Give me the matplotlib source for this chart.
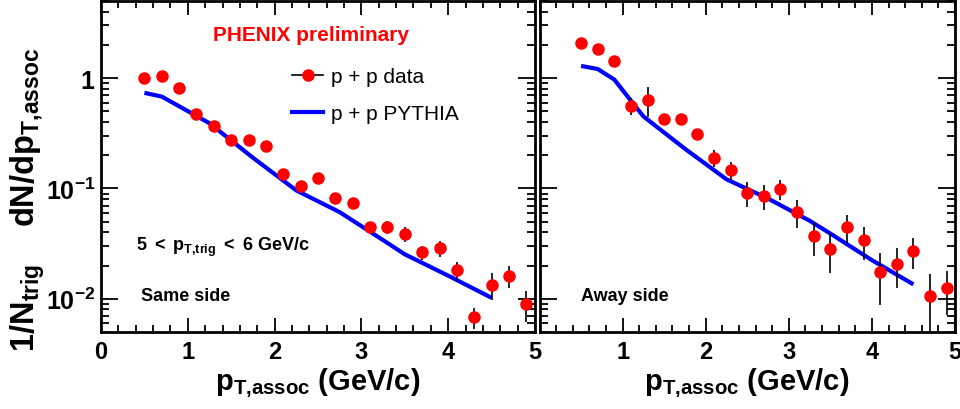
import numpy as np
import matplotlib
matplotlib.use("Agg")
import matplotlib.pyplot as plt
from matplotlib.lines import Line2D
from matplotlib.ticker import FixedLocator, FixedFormatter, LogLocator, MultipleLocator, NullFormatter

plt.rcParams['font.family'] = ['Liberation Sans', 'DejaVu Sans']
plt.rcParams['mathtext.fontset'] = 'custom'
plt.rcParams['mathtext.rm'] = 'Liberation Sans'
plt.rcParams['mathtext.bf'] = 'Liberation Sans:bold'
plt.rcParams['mathtext.it'] = 'Liberation Sans:italic'

# data points (pT,assoc bins)
pt = [0.5, 0.7, 0.9, 1.1, 1.3, 1.5, 1.7, 1.9, 2.1, 2.3, 2.5, 2.7,
      2.9, 3.1, 3.3, 3.5, 3.7, 3.9, 4.1, 4.3, 4.5, 4.7, 4.9]

same_y = [1.00, 1.04, 0.81, 0.473, 0.371, 0.277, 0.275, 0.245, 0.134, 0.105, 0.125, 0.0826,
          0.074, 0.0443, 0.045, 0.0385, 0.0264, 0.0288, 0.0181, 0.00678, 0.0134, 0.0161, 0.00894]
same_err = [0.02, 0.02, 0.02, 0.01, 0.01, 0.008, 0.008, 0.007, 0.005, 0.004, 0.004, 0.003,
            0.003, 0.005, 0.006, 0.006, 0.004, 0.0049, 0.0036, 0.0015, 0.0037, 0.0037, 0.0028]

away_y = [2.06, 1.83, 1.44, 0.562, 0.637, 0.427, 0.43, 0.31, 0.19, 0.146, 0.091, 0.0855,
          0.0996, 0.0614, 0.037, 0.0282, 0.045, 0.0338, 0.0174, 0.0207, 0.0271, 0.0105, 0.0125]
away_err = [0.03, 0.03, 0.03, 0.10, 0.19, 0.02, 0.02, 0.015, 0.032, 0.026, 0.023, 0.022,
            0.0205, 0.0174, 0.0125, 0.0111, 0.0127, 0.0114, 0.0087, 0.0082, 0.0084, 0.0063, 0.0053]

# PYTHIA curves
py_x = [0.5, 0.7, 0.9, 1.25, 1.75, 2.25, 2.75, 3.25, 3.5, 4.0, 4.5]
py_same = [0.735, 0.68, 0.556, 0.39, 0.19, 0.096, 0.061, 0.034, 0.0253, 0.0162, 0.0102]
py_away = [1.29, 1.21, 0.97, 0.45, 0.229, 0.121, 0.081, 0.051, 0.039, 0.0224, 0.0135]

RED = '#ff0000'
BLUE = '#0000ff'

fig = plt.figure(figsize=(9.6, 4.1), dpi=100)
W, H = 960.0, 410.0
ax1 = fig.add_axes([101 / W, 1 - 333 / H, 434 / W, 331 / H])
ax2 = fig.add_axes([539.5 / W, 1 - 333 / H, 415.5 / W, 331 / H])

for ax, y, err, pyth in [(ax1, same_y, same_err, py_same), (ax2, away_y, away_err, py_away)]:
    ax.plot(py_x, pyth, color=BLUE, lw=3, solid_capstyle='butt', zorder=2)
    ax.errorbar(pt, y, yerr=err, fmt='o', color=RED, ms=8, mec=RED,
                ecolor='black', elinewidth=1.2, capsize=0, zorder=3)
    ax.set_yscale('log')
    ax.set_xlim(0, 5)
    ax.set_ylim(0.005, 5)
    ax.xaxis.set_major_locator(MultipleLocator(1))
    ax.xaxis.set_minor_locator(MultipleLocator(0.2))
    ax.yaxis.set_major_locator(FixedLocator([0.01, 0.1, 1]))
    ax.yaxis.set_minor_locator(LogLocator(base=10, subs=np.arange(2, 10)))
    ax.yaxis.set_minor_formatter(NullFormatter())
    ax.tick_params(which='both', direction='in', top=True, right=True, width=1.3, color='black')
    ax.tick_params(which='major', axis='x', length=10)
    ax.tick_params(which='minor', axis='x', length=5)
    ax.tick_params(which='major', axis='y', length=12)
    ax.tick_params(which='minor', axis='y', length=6)
    ax.tick_params(axis='x', labelsize=17, pad=6)
    for s in ax.spines.values():
        s.set_linewidth(2)
    for lab in ax.get_xticklabels():
        lab.set_fontweight('bold')

ax1.yaxis.set_major_formatter(FixedFormatter([r'$\mathbf{10^{-2}}$', r'$\mathbf{10^{-1}}$', r'$\mathbf{1}$']))
ax1.tick_params(axis='y', labelsize=18, pad=4)
ax2.tick_params(axis='y', labelleft=False)
ax2.xaxis.set_major_locator(FixedLocator([0, 1, 2, 3, 4, 5]))
ax2.xaxis.set_major_formatter(FixedFormatter(['', '1', '2', '3', '4', '5']))

# texts
ax1.text(0.485, 0.90, 'PHENIX preliminary', transform=ax1.transAxes, color=RED,
         fontsize=15, fontweight='bold', ha='center', va='center')
ax1.text(0.08, 0.26, r'$\mathbf{5\ <\ p_{T{,}trig}\ <\ 6\ GeV/c}$', transform=ax1.transAxes,
         fontsize=13, ha='left', va='center')
ax1.text(0.093, 0.11, 'Same side', transform=ax1.transAxes, fontsize=13,
         fontweight='bold', ha='left', va='center')
ax2.text(0.1, 0.11, 'Away side', transform=ax2.transAxes, fontsize=13,
         fontweight='bold', ha='left', va='center')

handles = [Line2D([], [], color='black', lw=1.2, marker='o', ms=8, mfc=RED, mec=RED),
           Line2D([], [], color=BLUE, lw=3)]
ax1.legend(handles, ['p + p data', 'p + p PYTHIA'], loc='upper left',
           bbox_to_anchor=(0.44, 0.80), frameon=False, fontsize=15,
           handlelength=1.5, handletextpad=0.35, labelspacing=0.85,
           borderpad=0, borderaxespad=0)

fig.text(28 / W, 1 - 200 / H, r'$\mathbf{1/N_{trig}}$    $\mathbf{dN/dp_{T{,}assoc}}$',
         rotation=90, fontsize=23.5, ha='center', va='center')
for xc in [318, 747]:
    fig.text(xc / W, 1 - 383 / H, r'$\mathbf{p_{T{,}assoc}}$ (GeV/c)', fontsize=21,
             fontweight='bold', ha='center', va='center')

fig.savefig('out.png', dpi=100)
